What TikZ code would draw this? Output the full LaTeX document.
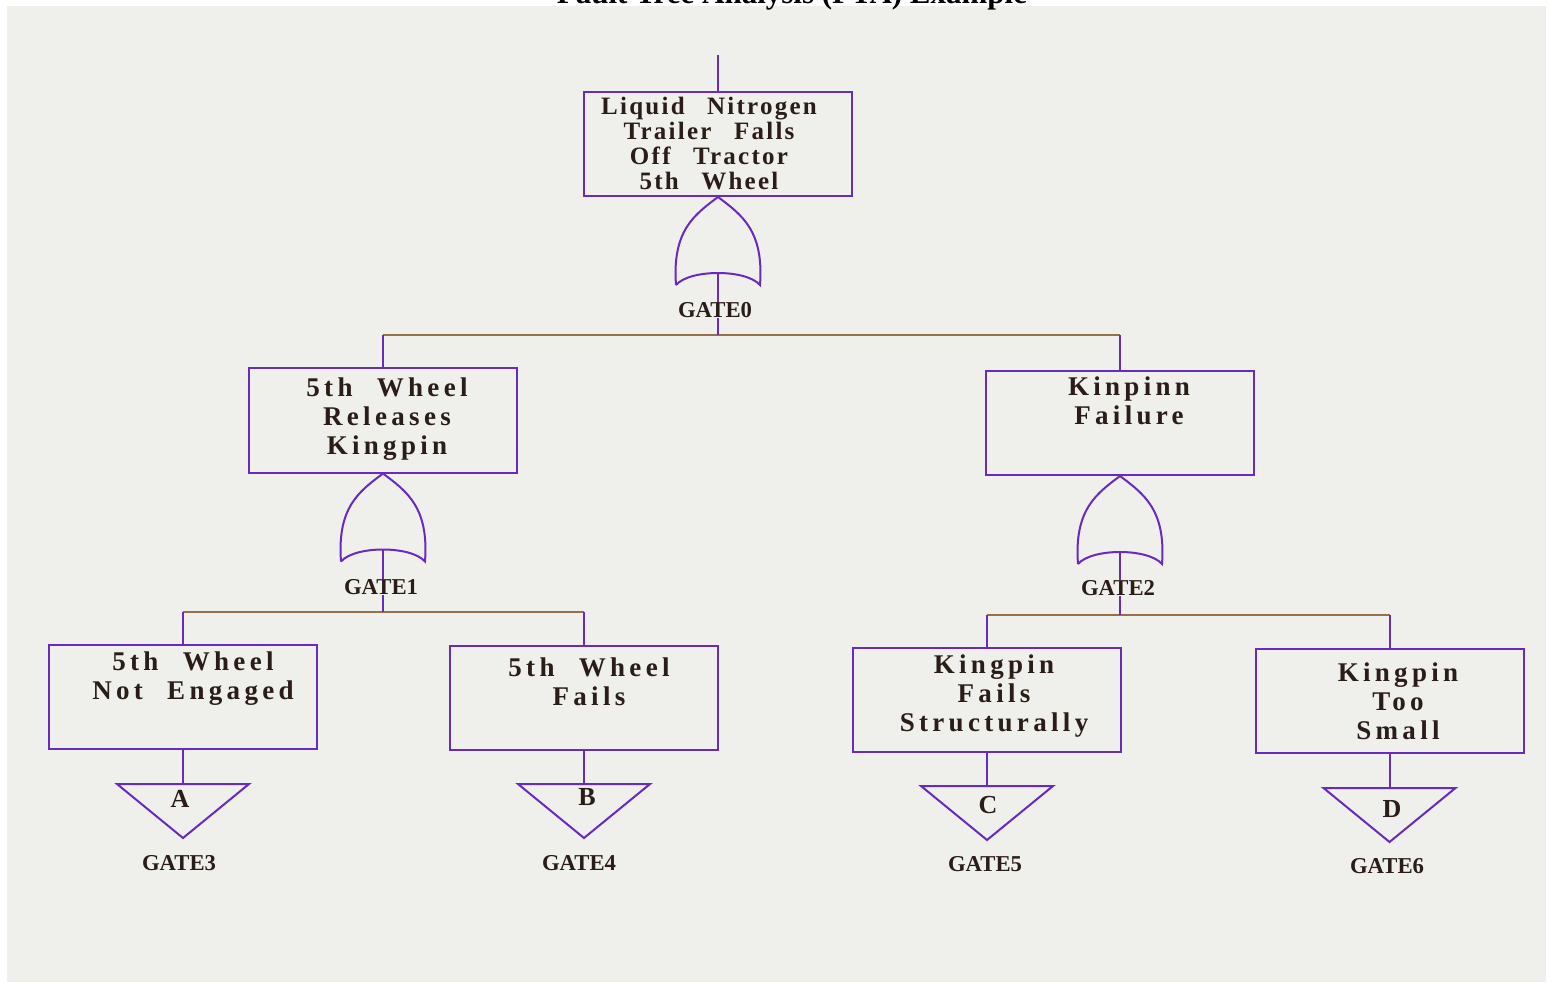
\documentclass[tikz,border=0pt]{standalone}
\usepackage{fontspec}
\setmainfont{Liberation Serif}
\newfontfamily\boxfont{Liberation Serif}[LetterSpace=16]
\newfontfamily\topfont{Liberation Serif}[LetterSpace=9]
\newcommand\gp{\hspace{0.9em}}
\definecolor{bgc}{RGB}{239,239,235}
\definecolor{linec}{RGB}{104,42,192}
\definecolor{busc}{RGB}{150,112,72}
\definecolor{textc}{RGB}{42,28,22}
\tikzset{
  gline/.style={draw=linec, line width=2pt},
  bus/.style={draw=busc, line width=2pt},
  evbox/.style={gline, rectangle, minimum width=268pt, minimum height=104pt, inner sep=0pt},
  evtext/.style={anchor=north, align=center, inner sep=0pt, text=textc,
    font=\boxfont\bfseries\fontsize{27}{29}\selectfont},
  toptext/.style={anchor=north, align=center, inner sep=0pt, text=textc,
    font=\topfont\bfseries\fontsize{25}{25}\selectfont},
  gatelbl/.style={fill=bgc, inner sep=0pt, text=textc,
    font=\bfseries\fontsize{22.7}{24}\selectfont},
  letter/.style={inner sep=0pt, text=textc, font=\boxfont\bfseries\fontsize{26}{26}\selectfont},
  orgate/.pic={\draw[gline] (-42,88) .. controls (-46,34) and (-24,18) .. (0,0)
      .. controls (24,18) and (46,34) .. (42,88)
      .. controls (28,72) and (-28,72) .. (-42,88);},
  xfer/.pic={\draw[gline] (-66,0) -- (66,0) -- (0,54) -- cycle;}
}
\begin{document}
\begin{tikzpicture}[x=1pt,y=-1pt]
\useasboundingbox (0,0) rectangle (1548,984);
\clip (0,0) rectangle (1548,984);
\fill[white] (0,0) rectangle (1548,984);
\fill[bgc] (7,6) rectangle (1546,982);
\node[anchor=base, inner sep=0pt, font=\bfseries\fontsize{31}{31}\selectfont] (title) at (792,4) {Fault Tree Analysis (FTA) Example};

% event boxes
\node[evbox] (e0) at (718,144) {};
\node[evbox] (e1) at (383,420.5) {};
\node[evbox] (e2) at (1120,423) {};
\node[evbox] (e3) at (183,697) {};
\node[evbox] (e4) at (584,697.5) {};
\node[evbox] (e5) at (987,699.5) {};
\node[evbox] (e6) at (1389.5,701) {};

\node[toptext] (t0) at (709,97) {Liquid\gp Nitrogen\\Trailer\gp Falls\\Off\gp Tractor\\5th\gp Wheel};
\node[evtext] (t1) at (387,378) {5th\gp Wheel\\Releases\\Kingpin};
\node[evtext] (t2) at (1129,377) {Kinpinn\\Failure};
\node[evtext] (t3) at (193,652) {5th\gp Wheel\\Not\gp Engaged};
\node[evtext] (t4) at (589,658) {5th\gp Wheel\\Fails};
\node[evtext] (t5) at (994,655) {Kingpin\\Fails\\Structurally};
\node[evtext] (t6) at (1398,663) {Kingpin\\Too\\Small};

% top stub
\coordinate (top) at (718,55);
\draw[gline] (top) -- (e0.north);

% OR gates
\pic at (e0.south) {orgate};
\pic at (e1.south) {orgate};
\pic at (e2.south) {orgate};
\coordinate (g0out) at (718,273);
\coordinate (g1out) at (383,549);
\coordinate (g2out) at (1120,551);
\coordinate (b0) at (718,335);
\coordinate (b1) at (383,612);
\coordinate (b2) at (1120,615);

% level 1 connections
\draw[bus] (e1.north |- b0) -- (e2.north |- b0);
\draw[gline] (g0out) -- (b0);
\draw[gline] (e1.north |- b0) -- (e1.north);
\draw[gline] (e2.north |- b0) -- (e2.north);

% level 2 connections
\draw[bus] (e3.north |- b1) -- (e4.north |- b1);
\draw[gline] (g1out) -- (b1);
\draw[gline] (e3.north |- b1) -- (e3.north);
\draw[gline] (e4.north |- b1) -- (e4.north);

\draw[bus] (e5.north |- b2) -- (e6.north |- b2);
\draw[gline] (g2out) -- (b2);
\draw[gline] (e5.north |- b2) -- (e5.north);
\draw[gline] (e6.north |- b2) -- (e6.north);

% transfer triangles
\coordinate (x3) at (183,784);
\coordinate (x4) at (584,784);
\coordinate (x5) at (987,786);
\coordinate (x6) at (1389.5,788);
\draw[gline] (e3.south) -- (x3);
\draw[gline] (e4.south) -- (x4);
\draw[gline] (e5.south) -- (x5);
\draw[gline] (e6.south) -- (x6);
\pic at (x3) {xfer};
\pic at (x4) {xfer};
\pic at (x5) {xfer};
\pic at (x6) {xfer};
\node[letter] (la) at (180,798.5) {A};
\node[letter] (lb) at (587,797.5) {B};
\node[letter] (lc) at (988,805) {C};
\node[letter] (ld) at (1392,809) {D};

% gate labels
\node[gatelbl] (n0) at (715,310.5) {GATE0};
\node[gatelbl] (n1) at (381,587) {GATE1};
\node[gatelbl] (n2) at (1118,588) {GATE2};
\node[gatelbl] (n3) at (179,863) {GATE3};
\node[gatelbl] (n4) at (579,863) {GATE4};
\node[gatelbl] (n5) at (985,864) {GATE5};
\node[gatelbl] (n6) at (1387,866) {GATE6};
\end{tikzpicture}
\end{document}
